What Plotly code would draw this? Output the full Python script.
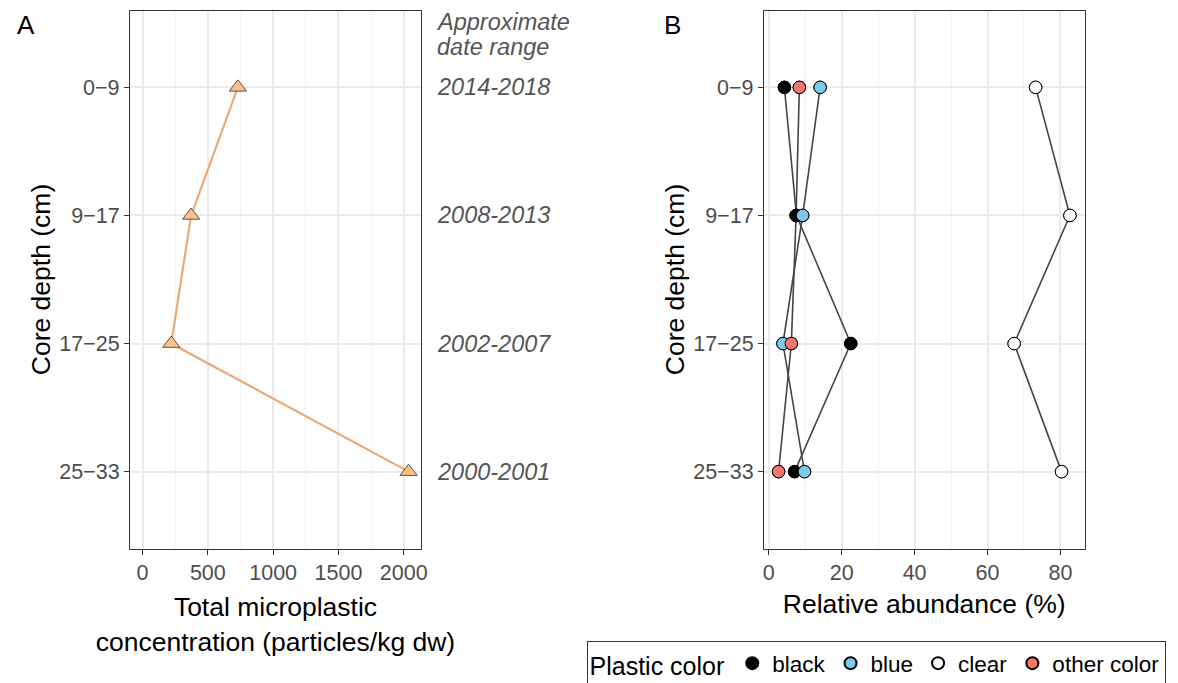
import plotly.graph_objects as go

# ---------------- data ----------------
depths = ["0−9", "9−17", "17−25", "25−33"]
total_conc = [730, 372, 220, 2037]            # particles/kg dw
date_ranges = ["2014-2018", "2008-2013", "2002-2007", "2000-2001"]
date_header = ["Approximate", "date range"]

color_names = ["black", "blue", "clear", "other color"]
black_pct = [4.3, 7.6, 22.5, 7.1]
blue_pct = [14.1, 9.3, 3.9, 9.8]
clear_pct = [73.2, 82.6, 67.3, 80.3]
other_pct = [8.4, 7.5, 6.2, 2.7]

# ---------------- styles ----------------
OFF = 8                      # default page body margin
W, H = 1178 - OFF, 683 - OFF
FONT = "Liberation Sans, Arial, sans-serif"
GRID = "#EBEBEB"
MINOR = "#F3F3F3"
FRAME = "#333333"
TICKC = "#4D4D4D"
fills = {"black": "#000000", "blue": "#7FC9EA", "clear": "#FFFFFF", "other color": "#F8766D"}
series = {"black": black_pct, "blue": blue_pct, "clear": clear_pct, "other color": other_pct}
# point draw order per depth (later = on top)
draw_order = [
    ["black", "other color", "blue", "clear"],
    ["other color", "black", "blue", "clear"],
    ["blue", "other color", "black", "clear"],
    ["other color", "black", "blue", "clear"],
]

def px_x(p):
    return (p - OFF) / W

def px_y(p):
    return 1 - (p - OFF) / H

fig = go.Figure()

# ---------------- panel A ----------------
fig.add_trace(go.Scatter(
    x=total_conc, y=depths, mode="lines+markers", xaxis="x", yaxis="y",
    line=dict(color="#EBA977", width=2.2),
    marker=dict(symbol="triangle-up", size=15, color="#FDBF85",
                line=dict(color="#555555", width=1)),
    showlegend=False, hoverinfo="x+y"))

# ---------------- panel B ----------------
for name in color_names:
    fig.add_trace(go.Scatter(
        x=series[name], y=depths, mode="lines", xaxis="x2", yaxis="y2",
        line=dict(color="#454545", width=1.6), showlegend=False, hoverinfo="skip"))

# legend-bearing marker traces
for name in color_names:
    fig.add_trace(go.Scatter(
        x=series[name], y=depths, mode="markers", xaxis="x2", yaxis="y2", name=name,
        marker=dict(size=12.5, color=fills[name], line=dict(color="#000000", width=1)),
        showlegend=True))

# overlay with per-depth draw order
ox, oy, oc = [], [], []
for i, d in enumerate(depths):
    for name in draw_order[i]:
        ox.append(series[name][i])
        oy.append(d)
        oc.append(fills[name])
fig.add_trace(go.Scatter(
    x=ox, y=oy, mode="markers", xaxis="x2", yaxis="y2",
    marker=dict(size=12.5, color=oc, line=dict(color="#000000", width=1)),
    showlegend=False, hoverinfo="x+y"))

# ---------------- axes ----------------
ydom = [px_y(548.5), px_y(10.5)]
common_x = dict(showline=True, linecolor=FRAME, linewidth=1.2, mirror=True,
                ticks="outside", ticklen=5, tickcolor=FRAME, tickwidth=1.2,
                showgrid=True, gridcolor=GRID, gridwidth=1.6, zeroline=False,
                tickfont=dict(family=FONT, size=21.5, color=TICKC),
                title_font=dict(family=FONT, size=26.5, color="#000000"))
common_y = dict(type="category", categoryorder="array", categoryarray=depths,
                range=[3.6, -0.6], showline=True, linecolor=FRAME, linewidth=1.2,
                mirror=True, ticks="outside", ticklen=5, tickcolor=FRAME, tickwidth=1.2,
                showgrid=True, gridcolor=GRID, gridwidth=1.6, zeroline=False,
                tickfont=dict(family=FONT, size=21.5, color=TICKC),
                title_font=dict(family=FONT, size=26.5, color="#000000"))

fig.update_layout(
    width=W, height=H,
    margin=dict(l=0, r=0, t=0, b=0, autoexpand=False),
    paper_bgcolor="white", plot_bgcolor="white",
    font=dict(family=FONT),
    xaxis=dict(domain=[px_x(130), px_x(421)], anchor="y", range=[-96, 2132],
               tickvals=[0, 500, 1000, 1500, 2000],
               minor=dict(dtick=250, tick0=0, showgrid=True, gridcolor=MINOR, gridwidth=0.9),
               title=dict(text="Total microplastic<br>concentration (particles/kg dw)", standoff=13),
               **common_x),
    yaxis=dict(domain=ydom, anchor="x",
               title=dict(text="Core depth (cm)", standoff=0), **common_y),
    xaxis2=dict(domain=[px_x(764), px_x(1084.5)], anchor="y2", range=[-1.3, 86.6],
                tickvals=[0, 20, 40, 60, 80],
                minor=dict(dtick=10, tick0=0, showgrid=True, gridcolor=MINOR, gridwidth=0.9),
                title=dict(text="Relative abundance (%)", standoff=10),
                **common_x),
    yaxis2=dict(domain=ydom, anchor="x2",
                title=dict(text="Core depth (cm)", standoff=0), **common_y),
    legend=dict(orientation="h", x=px_x(876), xanchor="center", y=px_y(641), yanchor="top",
                bordercolor="#333333", borderwidth=1, bgcolor="white",
                font=dict(family=FONT, size=22.5, color="#000000"),
                title=dict(text="Plastic color", font=dict(family=FONT, size=25, color="#000000")),
                itemsizing="constant", itemwidth=30, tracegroupgap=0),
)

# panel labels
fig.add_annotation(text="A", x=px_x(26), y=px_y(25), xref="paper", yref="paper",
                   xanchor="center", yanchor="middle",
                   showarrow=False, font=dict(family=FONT, size=26, color="#000000"))
fig.add_annotation(text="B", x=px_x(672), y=px_y(25), xref="paper", yref="paper",
                   xanchor="center", yanchor="middle",
                   showarrow=False, font=dict(family=FONT, size=26, color="#000000"))

# date range header and labels
fig.add_annotation(text=f"<i>{date_header[0]}</i>", x=px_x(435), y=1.0,
                   xref="paper", yref="paper", xanchor="left", yanchor="top",
                   showarrow=False, borderpad=0,
                   font=dict(family=FONT, size=23.5, color="#555555"))
fig.add_annotation(text=f"<i>{date_header[1]}</i>", x=px_x(435), y=px_y(47),
                   xref="paper", yref="paper", xanchor="left", yanchor="middle",
                   showarrow=False, font=dict(family=FONT, size=23.5, color="#555555"))
for d, lab in zip(depths, date_ranges):
    fig.add_annotation(text=f"<i>{lab}</i>", x=px_x(435), y=d, xref="paper", yref="y",
                       xanchor="left", yanchor="middle", showarrow=False,
                       font=dict(family=FONT, size=23.5, color="#555555"))

fig.write_html("out.html")
